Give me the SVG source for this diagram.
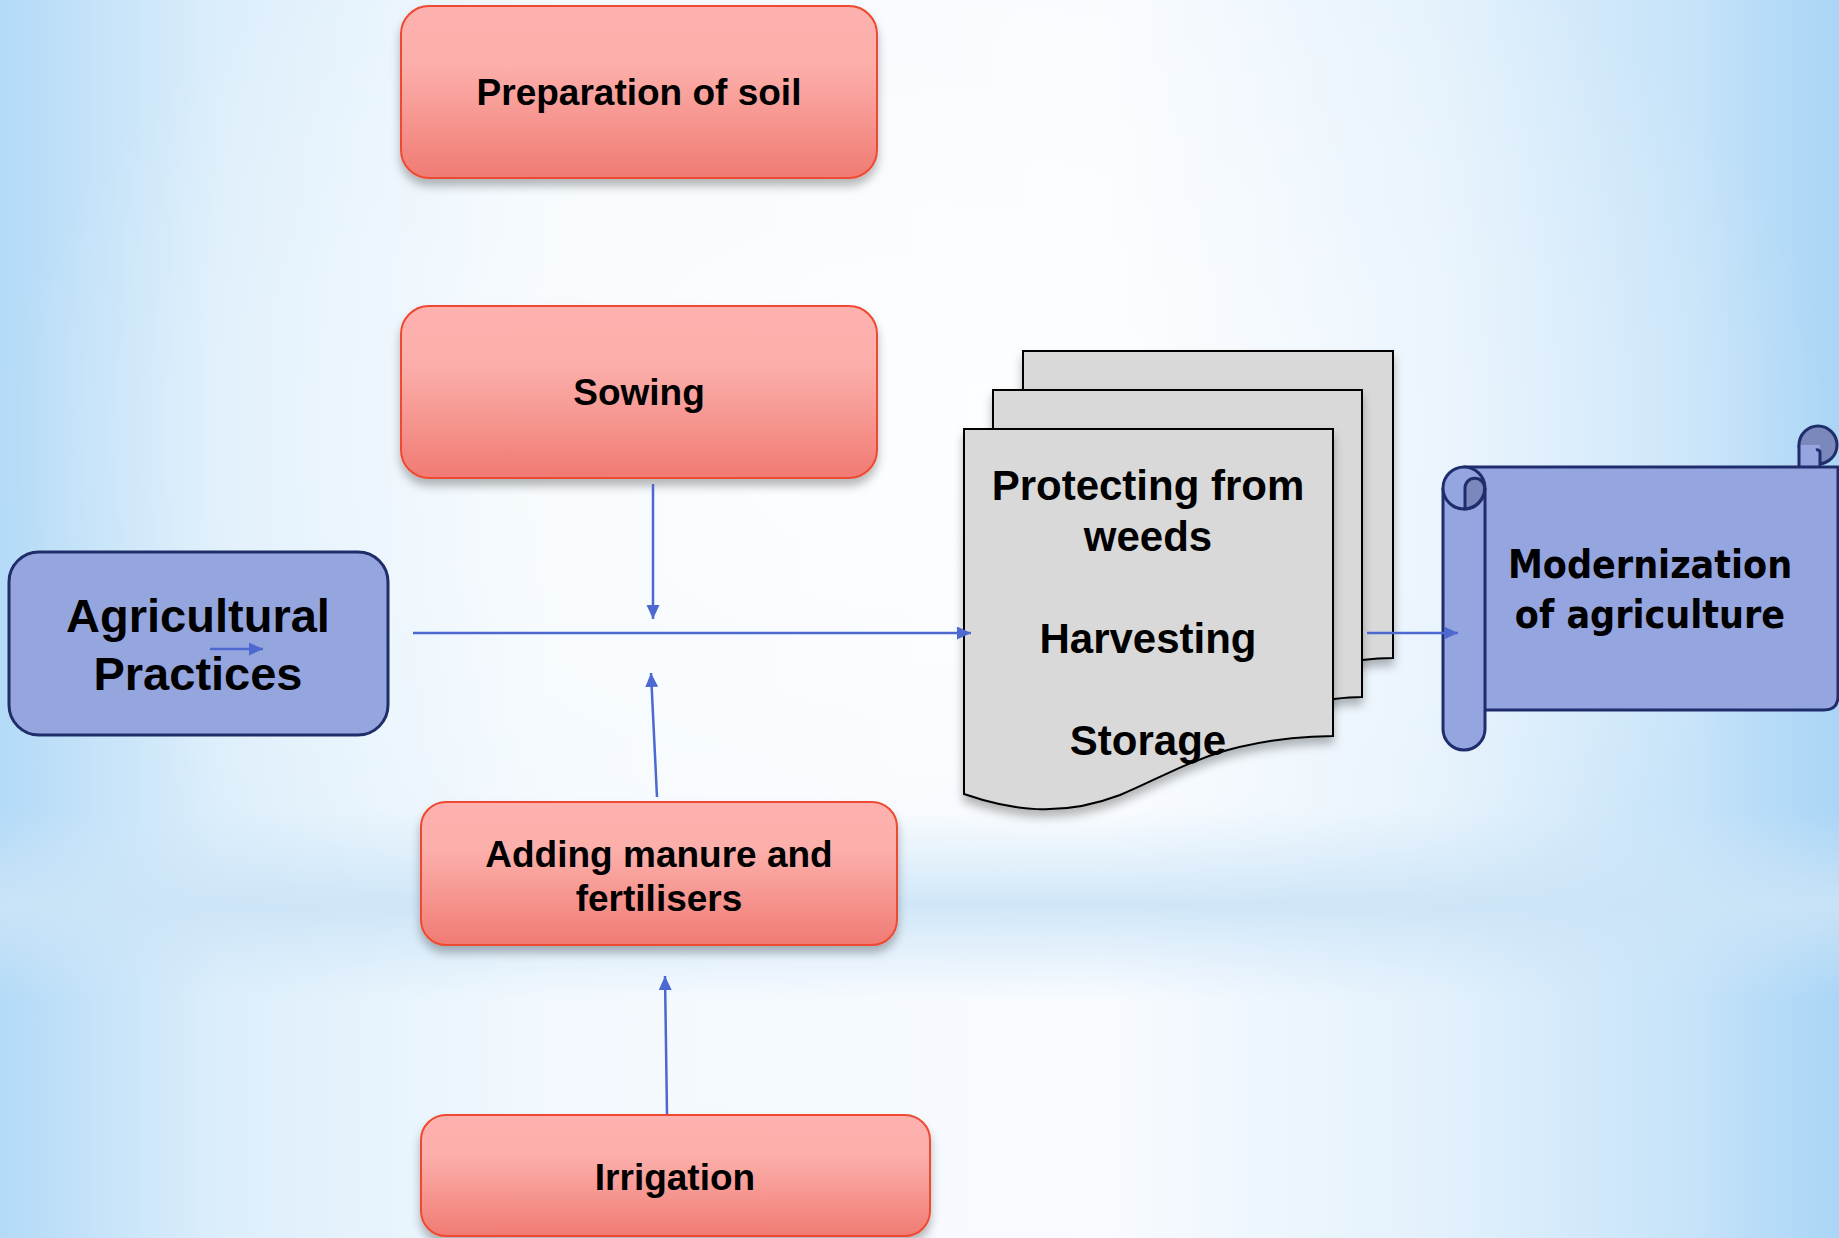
<svg xmlns="http://www.w3.org/2000/svg" width="1839" height="1238" viewBox="0 0 1839 1238">
<defs>
<linearGradient id="bgH" x1="0" y1="0" x2="1" y2="0">
<stop offset="0" stop-color="#B3DAF7"/>
<stop offset="0.12" stop-color="#DCEEFB"/>
<stop offset="0.3" stop-color="#F3F9FE"/>
<stop offset="0.6" stop-color="#F8FBFF"/>
<stop offset="0.78" stop-color="#E3F1FC"/>
<stop offset="0.92" stop-color="#C6E3F9"/>
<stop offset="1" stop-color="#A9D5F6"/>
</linearGradient>
<linearGradient id="band" x1="0" y1="0" x2="0" y2="1">
<stop offset="0" stop-color="#CFE6F8" stop-opacity="0"/>
<stop offset="0.5" stop-color="#CBE4F7" stop-opacity="0.9"/>
<stop offset="1" stop-color="#CFE6F8" stop-opacity="0"/>
</linearGradient>
<radialGradient id="glow" cx="0.5" cy="0.35" r="0.5">
<stop offset="0" stop-color="#FFFFFF" stop-opacity="0.7"/>
<stop offset="1" stop-color="#FFFFFF" stop-opacity="0"/>
</radialGradient>
<linearGradient id="red" x1="0" y1="0" x2="0" y2="1">
<stop offset="0" stop-color="#FDB2AF"/>
<stop offset="0.35" stop-color="#FCAEAA"/>
<stop offset="1" stop-color="#F07B73"/>
</linearGradient>
<filter id="sh" x="-10%" y="-10%" width="120%" height="130%">
<feDropShadow dx="0" dy="7" stdDeviation="5" flood-color="#000" flood-opacity="0.28"/>
</filter>
<marker id="ah" markerUnits="userSpaceOnUse" markerWidth="16" markerHeight="14" refX="14" refY="6.5" orient="auto">
<path d="M0,0 L14,6.5 L0,13 Z" fill="#4D69D0"/>
</marker>
<style>
.rbox{fill:url(#red);stroke:#EE4A30;stroke-width:2;filter:url(#sh)}
.bbox{fill:#95A6DF;stroke:#1F2D6B;stroke-width:3}
.doc{fill:#D9D9D9;stroke:#000;stroke-width:2;filter:url(#sh)}
.scr{fill:#95A5DF;stroke:#202D6C;stroke-width:3;stroke-linejoin:round}
.dark{fill:#7B88BC;stroke:#202D6C;stroke-width:3}
.t{font-family:"Liberation Sans",Arial,sans-serif;font-weight:bold;fill:#000;text-anchor:middle}
.ts{font-family:"DejaVu Sans Condensed","DejaVu Sans",sans-serif;font-weight:bold;fill:#000;text-anchor:middle}
.con{stroke:#4D69D0;stroke-width:2.5;fill:none;marker-end:url(#ah)}
</style>
</defs>
<rect x="0" y="0" width="1839" height="1238" fill="url(#bgH)"/>
<rect x="0" y="0" width="1839" height="1238" fill="url(#glow)"/>
<rect x="0" y="810" width="1839" height="190" fill="url(#band)"/>

<g id="node-preparation">
<rect class="rbox" x="401" y="6" width="476" height="172" rx="28"/>
<text class="t" x="639" y="105" font-size="37">Preparation of soil</text>
</g>
<g id="node-sowing">
<rect class="rbox" x="401" y="306" width="476" height="172" rx="28"/>
<text class="t" x="639" y="405" font-size="37">Sowing</text>
</g>
<g id="node-manure">
<rect class="rbox" x="421" y="802" width="476" height="143" rx="25"/>
<text class="t" x="659" y="867" font-size="37">Adding manure and</text>
<text class="t" x="659" y="911" font-size="37">fertilisers</text>
</g>
<g id="node-irrigation">
<rect class="rbox" x="421" y="1115" width="509" height="121" rx="25"/>
<text class="t" x="675" y="1190" font-size="37">Irrigation</text>
</g>
<g id="node-agri">
<rect class="bbox" x="9" y="552" width="379" height="183" rx="30"/>
<text class="t" x="198" y="632" font-size="47">Agricultural</text>
<text class="t" x="198" y="690" font-size="47">Practices</text>
</g>
<g id="node-docs">
<path class="doc" d="M1023,351 H1393 V658 C1380,658 1370,659 1362,660 L1023,690 Z"/>
<path class="doc" d="M993,390 H1362 V697 C1352,697 1342,698 1334,699 L993,740 Z"/>
<path class="doc" d="M964,429 H1333 V736 C1220,738 1180,770 1120,795 C1060,818 1010,810 964,794 Z"/>
<text class="t" x="1148" y="500" font-size="42">Protecting from</text>
<text class="t" x="1148" y="551" font-size="42">weeds</text>
<text class="t" x="1148" y="653" font-size="42">Harvesting</text>
<text class="t" x="1148" y="755" font-size="42">Storage</text>
</g>
<g id="node-scroll">
<circle class="dark" cx="1818" cy="445" r="19"/>
<rect x="1799" y="445" width="21" height="22" fill="#95A5DF"/>
<path d="M1799,445 V467 M1820,467 V452 A3,3 0 0 0 1816,450" fill="none" stroke="#202D6C" stroke-width="3"/>
<path class="scr" d="M1464,467 H1838 V696 Q1838,710 1824,710 H1464 Z"/>
<path class="scr" d="M1443,488 V729 A21,21 0 0 0 1485,729 V488"/>
<circle class="scr" cx="1464" cy="488" r="21"/>
<path class="dark" d="M1465,509 V488 A9.8,9.8 0 0 1 1484.6,488 A21,21 0 0 1 1465,509 Z"/>
<text class="ts" x="1650" y="578" font-size="39">Modernization</text>
<text class="ts" x="1650" y="628" font-size="39">of agriculture</text>
</g>

<g id="connectors">
<line class="con" x1="653" y1="484" x2="653" y2="619"/>
<line class="con" x1="413" y1="633" x2="971" y2="633"/>
<line class="con" x1="657" y1="797" x2="651" y2="673"/>
<line class="con" x1="667" y1="1114" x2="665" y2="976"/>
<line class="con" x1="1367" y1="633" x2="1458" y2="633"/>
<line class="con" x1="210" y1="649" x2="263" y2="649"/>
</g>
</svg>
